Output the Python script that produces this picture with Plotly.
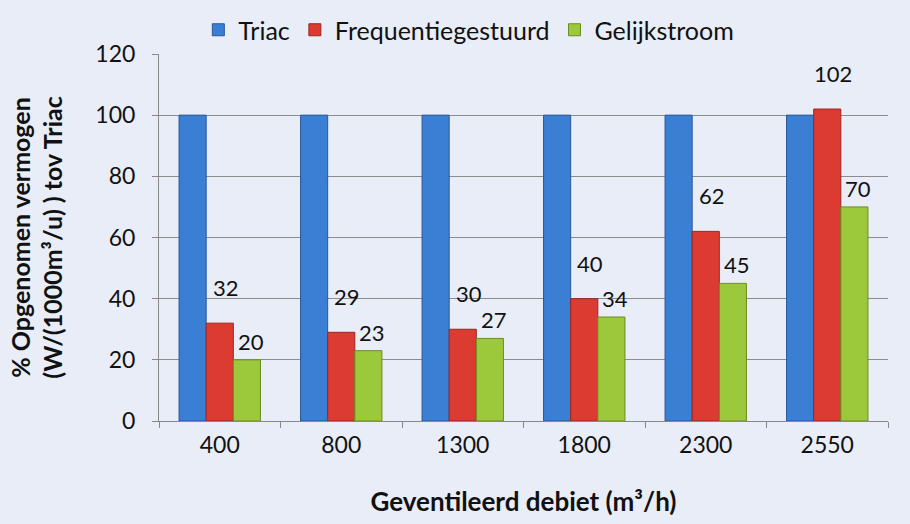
import plotly.graph_objects as go

# data
debiet = ["400", "800", "1300", "1800", "2300", "2550"]
triac = [100, 100, 100, 100, 100, 100]
frequentie = [32, 29, 30, 40, 62, 102]
gelijkstroom = [20, 23, 27, 34, 45, 70]

FONT = "Lato"
BG = "#e8edf8"

fig = go.Figure()
fig.add_trace(go.Bar(x=debiet, y=triac, name="Triac",
                     marker=dict(color="#3a7fd3", line=dict(color="#28589a", width=1))))
fig.add_trace(go.Bar(x=debiet, y=frequentie, name="Frequentiegestuurd",
                     marker=dict(color="#dc3b32", line=dict(color="#9a2520", width=1))))
fig.add_trace(go.Bar(x=debiet, y=gelijkstroom, name="Gelijkstroom",
                     marker=dict(color="#9cc83c", line=dict(color="#6b8c22", width=1))))

# data labels (only the red and green series carry them)
# x given as category index, offset within the group by bar slot
bar_w = 1 - 0.33
for slot, ys, dx, dy in [(0, frequentie, 6, 20), (1, gelijkstroom, 4, 3)]:
    for i, y in enumerate(ys):
        fig.add_annotation(x=i + slot * bar_w / 3, y=y, text=str(y), showarrow=False,
                           xref="x", yref="y", yanchor="bottom",
                           xshift=dx, yshift=dy,
                           font=dict(family=FONT, size=22, color="#111111"))

fig.update_layout(
    width=910, height=524,
    paper_bgcolor=BG, plot_bgcolor=BG,
    font=dict(family=FONT, size=23, color="#111111"),
    barmode="group", bargap=0.33, bargroupgap=0,
    margin=dict(l=159, r=22, t=54, b=103),
    legend=dict(orientation="h", x=0.425, xanchor="center",
                yref="container", y=1 - 30 / 524, yanchor="middle",
                font=dict(family=FONT, size=25), bgcolor="rgba(0,0,0,0)",
                itemwidth=30, traceorder="normal"),
    showlegend=True,
)
fig.update_xaxes(
    type="category", showline=True, linecolor="#888888", linewidth=1,
    ticks="outside", tickson="boundaries", ticklen=6, tickcolor="#888888",
    showgrid=False, range=[-0.5, 5.5], automargin=False,
    tickfont=dict(size=23), ticklabelstandoff=3,
    title=dict(text="<b>Geventileerd debiet (m³/h)</b>", font=dict(family=FONT, size=26), standoff=36),
)
fig.update_yaxes(
    range=[0, 120], dtick=20, showline=True, linecolor="#888888", linewidth=1,
    ticks="outside", ticklen=6, tickcolor="#888888", automargin=False,
    showgrid=True, gridcolor="#8c8c8c", gridwidth=1, zeroline=False,
    tickfont=dict(size=23), ticklabelstandoff=12,
    title=dict(text="<b>% Opgenomen vermogen<br>(W/(1000m³/u) ) tov Triac</b>",
               font=dict(family=FONT, size=25), standoff=25),
)

fig.write_html("out.html", config={"displayModeBar": False},
               post_script="document.body.style.margin='0';")
